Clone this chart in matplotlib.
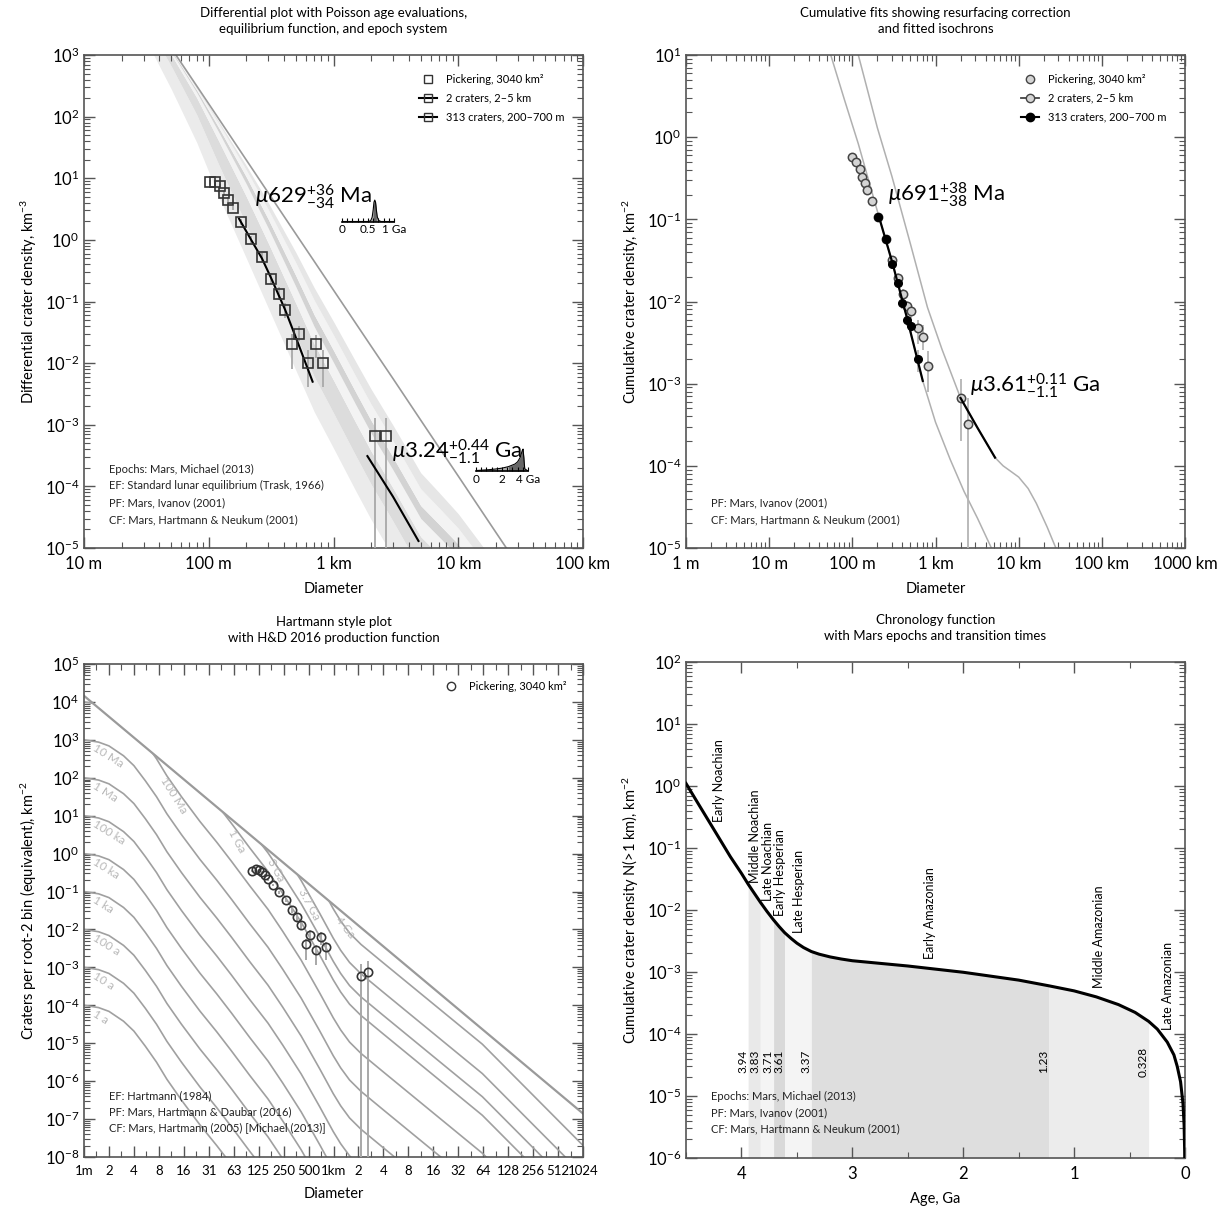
import numpy as np
import matplotlib
matplotlib.use('Agg')
import matplotlib.pyplot as plt
from matplotlib.lines import Line2D
from matplotlib.patches import Polygon
from matplotlib.ticker import FixedLocator, FixedFormatter, LogLocator, NullFormatter

plt.rcParams['font.family'] = ['Lato', 'DejaVu Sans']
plt.rcParams['mathtext.fontset'] = 'custom'
plt.rcParams['mathtext.rm'] = 'Lato'
plt.rcParams['mathtext.it'] = 'Lato:italic'
plt.rcParams['mathtext.bf'] = 'Lato:bold'

# ---------------- differential plot (top left) ----------------
diff_d = [0.102, 0.112, 0.123, 0.132, 0.143, 0.156, 0.18, 0.217, 0.267, 0.318,
          0.366, 0.41, 0.462, 0.532, 0.628, 0.724, 0.824, 2.15, 2.65]
diff_n = [8.6, 8.6, 7.6, 5.8, 4.5, 3.3, 1.97, 1.03, 0.526, 0.234,
          0.134, 0.0722, 0.0201, 0.030, 0.010, 0.0201, 0.010, 6.5e-4, 6.5e-4]
diff_lo = [7.9, 7.9, 7.0, 5.3, 4.1, 3.0, 1.75, 0.9, 0.44, 0.19,
           0.105, 0.053, 0.0081, 0.023, 0.0041, 0.012, 0.0041, 1e-9, 1e-9]
diff_hi = [9.3, 9.3, 8.2, 6.3, 4.9, 3.6, 2.2, 1.17, 0.62, 0.29,
           0.17, 0.095, 0.030, 0.040, 0.0162, 0.029, 0.0162, 1.29e-3, 1.29e-3]
fit629_d = [0.175, 0.217, 0.267, 0.318, 0.41, 0.53, 0.68]
fit629_n = [2.2, 1.03, 0.5, 0.234, 0.073, 0.019, 0.005]
fit324_d = [1.87, 3.0, 4.8]
fit324_n = [3.1e-4, 6.8e-5, 1.3e-5]

# isochron of the 3.24 Ga fit, equilibrium line, epoch boundaries
diff_grid = [0.03, 0.05, 0.08, 0.12, 0.2, 0.3, 0.5, 0.7, 1.0, 1.5, 2, 3, 5, 7,
             10, 15, 20, 30, 50, 100]
iso324 = [3.5e4, 3.95e3, 480, 60, 5.7, 0.88, 0.084, 0.018, 4.6e-3, 9.5e-4,
          3.2e-4, 8.0e-5, 1.3e-5, 6.6e-6, 3.2e-6, 1.12e-6, 5.3e-7, 1.9e-7, 4.9e-8, 8.1e-9]
iso324_n1 = 1.76e-3
ef_trask = [6.1e3, 1.3e3, 316, 93, 19.8, 5.8, 1.24, 0.45, 0.153, 0.045, 0.0189,
            5.6e-3, 1.19e-3, 4.3e-4, 1.47e-4, 4.3e-5, 1.8e-5, 5.3e-6, 1.13e-6, 1.4e-7]
epoch_ages = [0.328, 1.23, 3.37, 3.61, 3.71, 3.83, 3.94]
epoch_n1 = [1.6e-4, 6.0e-4, 2.1e-3, 4.2e-3, 6.9e-3, 1.34e-2, 2.62e-2]
band_colors = ['#ebebeb', '#dcdcdc', '#f3f3f3', '#d3d3d3', '#f3f3f3', '#e6e6e6']

pdf1_age = [0.0, 0.5, 0.55, 0.58, 0.6, 0.615, 0.63, 0.645, 0.66, 0.68, 0.71, 0.75, 1.0]
pdf1_p = [0, 0, 0.03, 0.2, 0.55, 0.9, 1.0, 0.9, 0.55, 0.2, 0.04, 0, 0]
pdf2_age = [0.0, 0.5, 1.0, 1.5, 2.0, 2.5, 3.0, 3.2, 3.4, 3.55, 3.62, 3.68, 3.75, 4.0]
pdf2_p = [0.02, 0.04, 0.06, 0.09, 0.13, 0.2, 0.32, 0.42, 0.62, 0.92, 1.0, 0.6, 0.1, 0]

# ---------------- cumulative plot (top right) ----------------
cum_d = [0.100, 0.111, 0.122, 0.131, 0.142, 0.151, 0.172, 0.204, 0.254, 0.302,
         0.356, 0.409, 0.456, 0.508, 0.618, 0.703, 0.81, 2.01, 2.47]
cum_n = [0.58, 0.50, 0.41, 0.33, 0.275, 0.23, 0.167, 0.106, 0.057, 0.0316,
         0.0195, 0.0123, 0.0087, 0.0077, 0.0047, 0.0037, 0.00166, 6.7e-4, 3.25e-4]
cum_lo = [0.55, 0.47, 0.39, 0.31, 0.26, 0.215, 0.157, 0.099, 0.052, 0.028,
          0.017, 0.0105, 0.0072, 0.0063, 0.0030, 0.0026, 8e-4, 2e-4, 1e-9]
cum_hi = [0.61, 0.53, 0.43, 0.35, 0.29, 0.245, 0.177, 0.113, 0.062, 0.035,
          0.022, 0.0141, 0.0102, 0.0091, 0.0060, 0.0052, 0.0025, 1.15e-3, 6.6e-4]
res_d = [0.204, 0.254, 0.302, 0.356, 0.399, 0.456, 0.508, 0.613]
res_n = [0.107, 0.057, 0.0284, 0.0166, 0.0097, 0.006, 0.005, 0.002]
res_lo = [0.1, 0.052, 0.025, 0.0145, 0.0082, 0.005, 0.0041, 0.0014]
res_hi = [0.114, 0.062, 0.032, 0.0188, 0.0112, 0.0071, 0.006, 0.0026]
iso691_d = [0.055, 0.08, 0.118, 0.205, 0.302, 0.456, 0.703, 1.0, 1.5, 2.2, 3.2, 4.7]
iso691_n = [10, 2.9, 0.83, 0.115, 0.03, 0.0062, 0.00108, 3.4e-4, 1.2e-4, 4.9e-5, 2.3e-5, 1.0e-5]
iso361_d = [0.118, 0.2, 0.3, 0.5, 0.8, 1.2, 2.0, 3.2, 5.2, 6.5, 8.0, 10, 13, 16.3, 22, 28]
iso361_n = [10, 1.3, 0.33, 0.05, 0.0085, 0.0026, 6.7e-4, 2.9e-4, 1.26e-4, 1.0e-4,
            8.6e-5, 7.3e-5, 5.3e-5, 3.5e-5, 1.8e-5, 1.0e-5]
fit691_d = [0.205, 0.302, 0.456, 0.703]
fit691_n = [0.115, 0.03, 0.0062, 0.00108]
fit361_d = [2.0, 3.2, 5.2]
fit361_n = [6.7e-4, 2.9e-4, 1.26e-4]

# ---------------- Hartmann plot (bottom left), diameters in m ----------------
hart_d = [107, 120, 131, 141, 152, 166, 189, 225, 276, 320, 367, 415, 473, 533,
          635, 724, 826, 2180, 2700]
hart_n = [0.354, 0.39, 0.37, 0.32, 0.27, 0.21, 0.15, 0.096, 0.06, 0.032, 0.021,
          0.0135, 0.0041, 0.0071, 0.0028, 0.0062, 0.0035, 6.0e-4, 7.4e-4]
hart_lo = [0.33, 0.37, 0.35, 0.3, 0.25, 0.195, 0.138, 0.087, 0.053, 0.027, 0.017,
           0.0105, 1.6e-3, 4.5e-3, 1.15e-3, 4.0e-3, 1.6e-3, 1e-12, 1e-12]
hart_hi = [0.38, 0.41, 0.39, 0.34, 0.29, 0.225, 0.162, 0.105, 0.067, 0.037, 0.025,
           0.0165, 5.5e-3, 9.5e-3, 3.8e-3, 8.5e-3, 4.8e-3, 1.2e-3, 1.5e-3]
sat_d = [1, 1048576]
sat_n = [1.45e4, 1.4e-7]
hd_shape_d = [1, 1.5, 2, 3, 4, 5.5, 7.5, 10, 15, 25, 40, 60, 100, 166, 250, 417,
              700, 1017, 1250, 1600, 2200, 4000, 64000, 1048576]
hd_shape_log = [0, -0.06, -0.16, -0.42, -0.68, -1.08, -1.5, -1.95, -2.5, -3.15,
                -3.7, -4.2, -4.85, -5.47, -6.05, -6.81, -7.68, -8.33, -8.65, -8.97,
                -9.27, -9.74, -11.9, -14.57]
iso_names = ['1 a', '10 a', '100 a', '1 ka', '10 ka', '100 ka', '1 Ma', '10 Ma',
             '100 Ma', '1 Ga', '3 Ga', '3.7 Ga', '4 Ga']
iso_log_n1m = [-4, -3, -2, -1, 0, 1, 2, 3, 4, 5, 5.49, 6.1, 6.875]
iso_lab_d = [1.3, 1.3, 1.3, 1.3, 1.3, 1.3, 1.3, 1.3, 9.0, 60, 175, 420, 1150]
iso_lab_logn = [-4.2, -3.2, -2.2, -1.2, -0.2, 0.8, 1.8, 2.8, 2.0, 0.62,
                -0.15, -0.95, -1.7]
iso_lab_rot = [-32, -32, -32, -32, -32, -32, -32, -32, -58, -62, -62, -62, -52]
hart_tick_labels = ['1m', '2', '4', '8', '16', '31', '63', '125', '250', '500', '1km',
                    '2', '4', '8', '16', '32', '64', '128', '256', '512', '1024']

# ---------------- chronology (bottom right) ----------------
chron_age = [4.5, 4.4, 4.3, 4.2, 4.1, 4.0, 3.94, 3.9, 3.83, 3.77, 3.71, 3.66, 3.61,
             3.55, 3.5, 3.44, 3.37, 3.3, 3.2, 3.1, 3.0, 2.5, 2.0, 1.5, 1.23, 1.0, 0.8,
             0.6, 0.45, 0.328, 0.25, 0.16, 0.1, 0.07, 0.04, 0.018, 0.008, 0.003, 0.001]
chron_n = [1.1, 0.556, 0.282, 0.143, 0.0724, 0.039, 0.0262, 0.0205, 0.0134, 9.5e-3,
           6.9e-3, 5.4e-3, 4.3e-3, 3.45e-3, 2.92e-3, 2.48e-3, 2.14e-3, 1.94e-3,
           1.75e-3, 1.62e-3, 1.52e-3, 1.25e-3, 9.9e-4, 7.4e-4, 6.0e-4, 4.96e-4,
           3.97e-4, 2.98e-4, 2.23e-4, 1.6e-4, 1.2e-4, 7.4e-5, 4.6e-5, 3.0e-5, 1.7e-5,
           7.5e-6, 3.4e-6, 1.3e-6, 4.3e-7]
epoch_bounds = [3.94, 3.83, 3.71, 3.61, 3.37, 1.23, 0.328]
epoch_bound_labels = ['3.94', '3.83', '3.71', '3.61', '3.37', '1.23', '0.328']
chron_shades = ['#e9e9e9', '#f4f4f4', '#d9d9d9', '#f4f4f4', '#dedede', '#ececec']
epoch_names = ['Early Noachian', 'Middle Noachian', 'Late Noachian', 'Early Hesperian',
               'Late Hesperian', 'Early Amazonian', 'Middle Amazonian', 'Late Amazonian']
epoch_name_age = [4.2, 3.875, 3.76, 3.65, 3.48, 2.3, 0.78, 0.15]
epoch_name_n = [0.26, 0.027, 0.014, 7.9e-3, 4.2e-3, 1.64e-3, 5.6e-4, 1.14e-4]

FRAME = '#555555'
SMALL = 8


def style_axes(ax):
    ax.tick_params(which='both', direction='in', top=True, right=True,
                   colors=FRAME, labelcolor='black')
    ax.tick_params(which='major', length=8, width=1, labelsize=12)
    ax.tick_params(which='minor', length=4, width=0.8)
    ax.tick_params(axis='x', which='major', pad=6)
    ax.xaxis.get_offset_text().set_visible(False)
    ax.yaxis.get_offset_text().set_visible(False)
    for s in ax.spines.values():
        s.set_color(FRAME)
        s.set_linewidth(1.2)


def log_y(ax, lo, hi):
    ax.set_yscale('log')
    ax.set_ylim(lo, hi)
    ax.yaxis.set_major_locator(LogLocator(base=10, numticks=30))
    ax.yaxis.set_minor_locator(LogLocator(base=10, subs=np.arange(2, 10), numticks=30))
    ax.yaxis.set_minor_formatter(NullFormatter())


def notes(ax, lines, x=0.05, y0=0.155, dy=0.034):
    for i, t in enumerate(lines):
        ax.text(x, y0 - i * dy, t, transform=ax.transAxes, fontsize=SMALL,
                color='#222222', va='center')


def pdf_inset(rect, ages, p, lo, hi, ticks, labels, xmax):
    ia = fig.add_axes(rect)
    ages = np.array(ages)
    p = np.array(p)
    ia.fill_between(ages, 0, p, color='#aaaaaa', lw=0)
    m = (ages >= lo) & (ages <= hi)
    ia.fill_between(ages[m], 0, p[m], color='#666666', lw=0)
    ia.plot(ages, p, color='black', lw=0.8)
    ia.set_xlim(0, xmax)
    ia.set_ylim(0, 1.05)
    for s in ['top', 'right', 'left']:
        ia.spines[s].set_visible(False)
    ia.spines['bottom'].set_linewidth(1.2)
    ia.set_yticks([])
    ia.set_xticks(ticks)
    ia.set_xticklabels(labels)
    ia.xaxis.set_minor_locator(FixedLocator(np.arange(0, xmax + 1e-9, xmax / 10)))
    ia.tick_params(which='both', direction='in', length=3, width=0.8, labelsize=8.5, pad=2)
    ia.patch.set_alpha(0)
    return ia


fig = plt.figure(figsize=(12.2, 12.07), dpi=100)
W, H = 1220.0, 1207.0


def rect(l, t, r, b):
    return [l / W, 1 - b / H, (r - l) / W, (b - t) / H]


# ======== top left ========
ax1 = fig.add_axes(rect(84, 55, 583, 548))
ax1.set_xscale('log')
ax1.set_xlim(0.01, 100)
log_y(ax1, 1e-5, 1e3)
grid = np.array(diff_grid)
ref = np.array(iso324)
efv = np.array(ef_trask)
edges = []
for n1 in epoch_n1:
    pf = ref * n1 / iso324_n1
    edges.append(1.0 / (1.0 / pf + 1.0 / efv))
for k in range(len(edges) - 1):
    ax1.fill_between(grid, edges[k], edges[k + 1], color=band_colors[k], lw=0, zorder=1)
ax1.plot(grid, efv, color='#9a9a9a', lw=1.2, zorder=2)
d = np.array(diff_d)
n = np.array(diff_n)
ax1.errorbar(d, n, yerr=[n - np.array(diff_lo), np.array(diff_hi) - n], fmt='none',
             ecolor='#a8a8a8', elinewidth=1.3, zorder=3)
ax1.plot(fit629_d, fit629_n, color='black', lw=1.5, zorder=4)
ax1.plot(fit324_d, fit324_n, color='black', lw=1.5, zorder=4)
ax1.plot(d, n, ls='none', marker='s', ms=6.5, mfc='none', mec='#333333', mew=1.2, zorder=5)
ax1.xaxis.set_major_locator(FixedLocator([0.01, 0.1, 1, 10, 100]))
ax1.xaxis.set_major_formatter(FixedFormatter(['10 m', '100 m', '1 km', '10 km', '100 km']))
ax1.xaxis.set_minor_locator(LogLocator(base=10, subs=np.arange(2, 10), numticks=30))
ax1.xaxis.set_minor_formatter(NullFormatter())
style_axes(ax1)
ax1.set_xlabel('Diameter', fontsize=10.5, labelpad=7)
ax1.set_ylabel('Differential crater density, km$^{-3}$', fontsize=10.5, labelpad=4)
ax1.set_title('Differential plot with Poisson age evaluations,\nequilibrium function, and epoch system',
              fontsize=9.5, pad=16, linespacing=1.35)
h1 = [Line2D([], [], ls='none', marker='s', ms=6, mfc='none', mec='#333333'),
      Line2D([], [], color='black', lw=1.5, marker='s', ms=6, mfc='none', mec='#333333'),
      Line2D([], [], color='black', lw=1.5, marker='s', ms=6, mfc='none', mec='#333333')]
ax1.legend(h1, ['Pickering, 3040 km²', '2 craters, 2–5 km', '313 craters, 200–700 m'],
           loc='upper right', frameon=False, fontsize=SMALL, handlelength=1.6,
           borderaxespad=1.3, labelspacing=0.7)
ax1.text(0.235, 5.0, r'$\mu629^{+36}_{-34}$ Ma', fontsize=16, va='center', zorder=6)
ax1.text(2.95, 3.6e-4, r'$\mu3.24^{+0.44}_{-1.1}$ Ga', fontsize=16, va='center', zorder=6)
notes(ax1, ['Epochs: Mars, Michael (2013)', 'EF: Standard lunar equilibrium (Trask, 1966)',
            'PF: Mars, Ivanov (2001)', 'CF: Mars, Hartmann & Neukum (2001)'],
      y0=0.16, dy=0.034)
pdf_inset(rect(342, 199, 394, 221.5), pdf1_age, pdf1_p, 0.595, 0.665,
          [0, 0.5, 1], ['0', '0.5', '1 Ga'], 1.0)
pdf_inset(rect(476, 448, 528, 471), pdf2_age, pdf2_p, 2.14, 3.68,
          [0, 2, 4], ['0', '2', '4 Ga'], 4.0)

# ======== top right ========
ax2 = fig.add_axes(rect(686, 55, 1185, 548))
ax2.set_xscale('log')
ax2.set_xlim(0.001, 1000)
log_y(ax2, 1e-5, 10)
ax2.plot(iso691_d, iso691_n, color='#b0b0b0', lw=1.1, zorder=2)
ax2.plot(iso361_d, iso361_n, color='#b0b0b0', lw=1.1, zorder=2)
cd = np.array(cum_d)
cn = np.array(cum_n)
ax2.errorbar(cd, cn, yerr=[cn - np.array(cum_lo), np.array(cum_hi) - cn], fmt='none',
             ecolor='#b4b4b4', elinewidth=1.3, zorder=3)
rd = np.array(res_d)
rn = np.array(res_n)
ax2.errorbar(rd, rn, yerr=[rn - np.array(res_lo), np.array(res_hi) - rn], fmt='none',
             ecolor='#b4b4b4', elinewidth=1.3, zorder=3)
ax2.plot(cd, cn, ls='none', marker='o', ms=6, mfc='#d4d4d4', mec='#444444', mew=1.1, zorder=4)
ax2.plot(fit691_d, fit691_n, color='black', lw=1.6, zorder=5)
ax2.plot(fit361_d, fit361_n, color='black', lw=1.6, zorder=5)
ax2.plot(rd, rn, ls='none', marker='o', ms=5.5, mfc='black', mec='black', zorder=6)
ax2.xaxis.set_major_locator(FixedLocator([0.001, 0.01, 0.1, 1, 10, 100, 1000]))
ax2.xaxis.set_major_formatter(FixedFormatter(['1 m', '10 m', '100 m', '1 km', '10 km',
                                              '100 km', '1000 km']))
ax2.xaxis.set_minor_locator(LogLocator(base=10, subs=np.arange(2, 10), numticks=30))
ax2.xaxis.set_minor_formatter(NullFormatter())
style_axes(ax2)
ax2.set_xlabel('Diameter', fontsize=10.5, labelpad=7)
ax2.set_ylabel('Cumulative crater density, km$^{-2}$', fontsize=10.5, labelpad=4)
ax2.set_title('Cumulative fits showing resurfacing correction\nand fitted isochrons',
              fontsize=9.5, pad=16, linespacing=1.35)
h2 = [Line2D([], [], ls='none', marker='o', ms=6, mfc='#d4d4d4', mec='#444444'),
      Line2D([], [], color='#444444', lw=1.3, marker='o', ms=6, mfc='#d4d4d4', mec='#444444'),
      Line2D([], [], color='black', lw=1.5, marker='o', ms=6, mfc='black', mec='black')]
ax2.legend(h2, ['Pickering, 3040 km²', '2 craters, 2–5 km', '313 craters, 200–700 m'],
           loc='upper right', frameon=False, fontsize=SMALL, handlelength=1.6,
           borderaxespad=1.3, labelspacing=0.7)
ax2.text(0.265, 0.2, r'$\mu691^{+38}_{-38}$ Ma', fontsize=16, va='center', zorder=7)
ax2.text(2.58, 9.5e-4, r'$\mu3.61^{+0.11}_{-1.1}$ Ga', fontsize=16, va='center', zorder=7)
notes(ax2, ['PF: Mars, Ivanov (2001)', 'CF: Mars, Hartmann & Neukum (2001)'],
      y0=0.092, dy=0.034)

# ======== bottom left ========
ax3 = fig.add_axes(rect(84, 664, 583, 1157))
ax3.set_xscale('log', base=2)
ax3.set_xlim(1, 1048576)
log_y(ax3, 1e-8, 1e5)
ax3.plot(sat_d, sat_n, color='#9a9a9a', lw=1.6, zorder=2)
clip = Polygon([(sat_d[0], sat_n[0]), (sat_d[1], sat_n[1]), (sat_d[1], 1e-20),
                (sat_d[0], 1e-20)], closed=True, transform=ax3.transData)
shape_d = np.array(hd_shape_d)
shape = 10.0 ** np.array(hd_shape_log)
for lg in iso_log_n1m:
    ln, = ax3.plot(shape_d, shape * 10.0 ** lg, color='#a0a0a0', lw=1.2, zorder=2)
    ln.set_clip_path(clip)
for name, xd, yl, rot in zip(iso_names, iso_lab_d, iso_lab_logn, iso_lab_rot):
    ax3.text(xd, 10.0 ** yl, name, fontsize=8.5, color='#b8b8b8', rotation=rot,
             ha='left', va='center', rotation_mode='anchor', zorder=3)
hd = np.array(hart_d)
hn = np.array(hart_n)
ax3.errorbar(hd, hn, yerr=[hn - np.array(hart_lo), np.array(hart_hi) - hn], fmt='none',
             ecolor='#a8a8a8', elinewidth=1.4, zorder=4)
ax3.plot(hd, hn, ls='none', marker='o', ms=6, mfc='none', mec='#333333', mew=1.2, zorder=5)
ax3.xaxis.set_major_locator(FixedLocator([2.0 ** k for k in range(21)]))
ax3.xaxis.set_major_formatter(FixedFormatter(hart_tick_labels))
ax3.xaxis.set_minor_locator(FixedLocator([2.0 ** (k + 0.5) for k in range(20)]))
ax3.xaxis.set_minor_formatter(NullFormatter())
style_axes(ax3)
ax3.tick_params(axis='x', which='major', labelsize=9.5)
ax3.set_xlabel('Diameter', fontsize=10.5, labelpad=7)
ax3.set_ylabel('Craters per root-2 bin (equivalent), km$^{-2}$', fontsize=10.5, labelpad=4)
ax3.set_title('Hartmann style plot\nwith H&D 2016 production function',
              fontsize=9.5, pad=16, linespacing=1.35)
h3 = [Line2D([], [], ls='none', marker='o', ms=6, mfc='none', mec='#333333')]
ax3.legend(h3, ['Pickering, 3040 km²'], loc='upper right', frameon=False,
           fontsize=SMALL, handlelength=1.6, borderaxespad=1.1)
notes(ax3, ['EF: Hartmann (1984)', 'PF: Mars, Hartmann & Daubar (2016)',
            'CF: Mars, Hartmann (2005) [Michael (2013)]'], y0=0.124, dy=0.032)

# ======== bottom right ========
ax4 = fig.add_axes(rect(686, 662, 1185, 1158))
ax4.set_xlim(4.5, 0)
log_y(ax4, 1e-6, 1e2)
age = np.array(chron_age)
cn4 = np.array(chron_n)
for k in range(len(epoch_bounds) - 1):
    m = (age <= epoch_bounds[k]) & (age >= epoch_bounds[k + 1])
    ax4.fill_between(age[m], 1e-6, cn4[m], color=chron_shades[k], lw=0, zorder=1)
ax4.plot(age, cn4, color='black', lw=2.2, zorder=3)
for a, t in zip(epoch_bounds, epoch_bound_labels):
    ax4.text(a, 3.6e-5, t, rotation=90, ha='right', va='center', fontsize=8.5, zorder=4)
for a, y, t in zip(epoch_name_age, epoch_name_n, epoch_names):
    ax4.text(a, y, t, rotation=90, ha='center', va='bottom', fontsize=9, zorder=4)
ax4.xaxis.set_major_locator(FixedLocator([4, 3, 2, 1, 0]))
ax4.xaxis.set_minor_locator(FixedLocator([4.5, 3.5, 2.5, 1.5, 0.5]))
style_axes(ax4)
ax4.set_xlabel('Age, Ga', fontsize=10.5, labelpad=7)
ax4.set_ylabel('Cumulative crater density N(>1 km), km$^{-2}$', fontsize=10.5, labelpad=4)
ax4.set_title('Chronology function\nwith Mars epochs and transition times',
              fontsize=9.5, pad=16, linespacing=1.35)
notes(ax4, ['Epochs: Mars, Michael (2013)', 'PF: Mars, Ivanov (2001)',
            'CF: Mars, Hartmann & Neukum (2001)'], y0=0.125, dy=0.033)

fig.savefig('out.png', dpi=100)
